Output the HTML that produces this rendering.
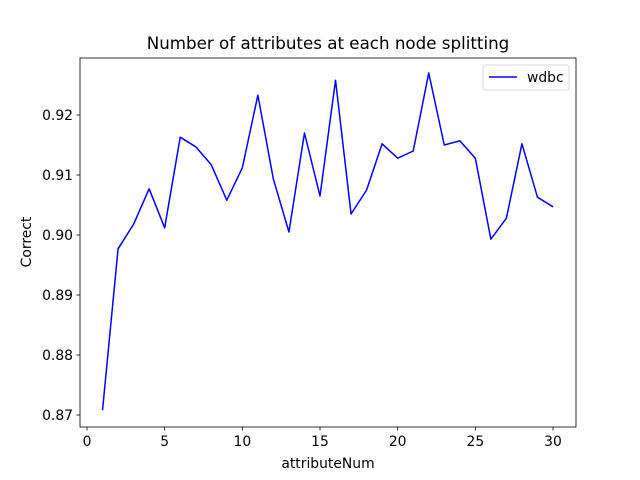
<!DOCTYPE html>
<html><head><meta charset="utf-8"><style>body{margin:0;background:#fff}svg{display:block;font-family:"DejaVu Sans","Liberation Sans",sans-serif}</style></head>
<body>
<svg id="chart" width="640" height="480" viewBox="0 0 640 480">
<rect width="640" height="480" fill="#fff"/>
<text x="328" y="49" text-anchor="middle" font-size="16.7">Number of attributes at each node splitting</text>
<g id="marks"></g>
<rect x="80" y="58" width="496" height="369" fill="none" stroke="#000" stroke-width="0.8"/>
<g id="xticks"></g><g id="yticks"></g>
<text x="328" y="468" text-anchor="middle" font-size="13.9">attributeNum</text>
<text transform="translate(31,242) rotate(-90)" text-anchor="middle" font-size="13.9">Correct</text>
<g>
<rect x="483" y="65" width="86" height="25" rx="2" fill="#fff" stroke="#ccc" stroke-width="0.8"/>
<line x1="489" y1="77" x2="517" y2="77" stroke="#0000ff" stroke-width="1.5"/>
<text x="527" y="82" font-size="13.9">wdbc</text>
</g>
</svg>
<script>
const xValues=[1,2,3,4,5,6,7,8,9,10,11,12,13,14,15,16,17,18,19,20,21,22,23,24,25,26,27,28,29,30];
const wdbc=[0.8708,0.8977,0.9018,0.9077,0.9012,0.9163,0.9147,0.9117,0.9058,0.9112,0.9233,0.9093,0.9005,0.9170,0.9065,0.9258,0.9035,0.9075,0.9152,0.9128,0.9140,0.9270,0.9150,0.9157,0.9128,0.8993,0.9028,0.9152,0.9063,0.9047];
const xTicks=[0,5,10,15,20,25,30];
const yTicks=[0.87,0.88,0.89,0.90,0.91,0.92];
const NS="http://www.w3.org/2000/svg";
const xs=v=>87+v*(553-87)/30;
const ys=v=>415-(v-0.87)*6000;
function mk(t,a,p){const e=document.createElementNS(NS,t);for(const k in a)e.setAttribute(k,a[k]);p.appendChild(e);return e;}
const marks=document.getElementById('marks');
const pl=mk('polyline',{points:xValues.map((x,i)=>xs(x)+','+ys(wdbc[i])).join(' '),fill:'none',stroke:'#0000ff','stroke-width':1.5,'stroke-linejoin':'round'},marks);


const xg=document.getElementById('xticks');
xTicks.forEach(t=>{const x=xs(t);
const l=mk('line',{x1:x,x2:x,y1:427,y2:430.5,stroke:'#000','stroke-width':0.8},xg);


const tx=mk('text',{x:x,y:446,'text-anchor':'middle','font-size':13.9},xg);tx.textContent=t;

});
const yg=document.getElementById('yticks');
yTicks.forEach(t=>{const y=ys(t);
const l=mk('line',{x1:76.5,x2:80,y1:y,y2:y,stroke:'#000','stroke-width':0.8},yg);


const tx=mk('text',{x:73,y:y+5,'text-anchor':'end','font-size':13.9},yg);tx.textContent=t.toFixed(2);

});
</script>
</body></html>
